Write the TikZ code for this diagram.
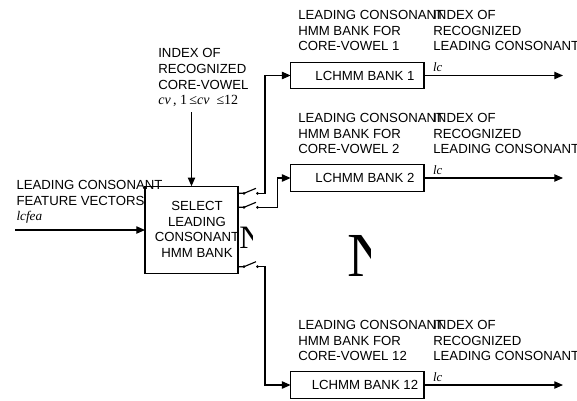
\documentclass[tikz,border=0pt]{standalone}
\usepackage{fontspec}
\setmainfont{Liberation Sans}
\newfontfamily\timesfont{Liberation Serif}
\usetikzlibrary{arrows.meta}
\begin{document}
\begin{tikzpicture}[x=0.75pt,y=-0.75pt,
  line width=0.85pt,
  every node/.style={inner sep=0pt, outer sep=0pt},
  lbl/.style={anchor=north west, align=left, font=\fontsize{9.9}{11.7}\selectfont},
  ctr/.style={align=center, font=\fontsize{9.9}{11.7}\selectfont},
  var/.style={anchor=base west, font=\timesfont\itshape\fontsize{9.6}{11}\selectfont},
  blk/.style={draw, minimum width=69.75pt, minimum height=65.25pt},
  bank/.style={draw, minimum width=100pt, minimum height=20pt},
  arr/.style={-{Triangle[length=6.5pt,width=5.5pt]}},
  dot/.style={circle, fill, minimum size=2.2pt},
  bigN/.style={anchor=base west, font=\timesfont}
]
\useasboundingbox (0,0) rectangle (577,400);

% selector block
\node[blk] (sel) at (191.5,229.7) {};
\node[ctr] (seltxt) at (197,229.3) {SELECT\\LEADING\\CONSONANT\\HMM BANK};

% input side
\node[lbl] (featlbl) at (16.5,180.2) {LEADING CONSONANT\\FEATURE VECTORS\\{\timesfont\itshape lcfea}};
\coordinate (fin) at (15,230);
\draw[arr] (fin) -- (fin -| sel.west);

\node[lbl] (cvlbl) at (158.3,48.6) {INDEX OF\\RECOGNIZED\\CORE-VOWEL\\{\timesfont\fontsize{10.5}{11.7}\selectfont\itshape cv\/\upshape\,, 1\,≤\itshape cv\upshape\ \ ≤12}};
\coordinate (cvin) at (191.5,112);
\draw[arr] (cvin) -- (sel.north);

% LCHMM banks
\node[bank] (b1) at (357.3,75.5) {};
\node[ctr] (b1t) at (365,75.5) {LCHMM BANK 1};
\node[bank] (b2) at (357.3,178) {};
\node[ctr] (b2t) at (365,178) {LCHMM BANK 2};
\node[bank] (b12) at (357.3,385) {};
\node[ctr] (b12t) at (365,385) {LCHMM BANK 12};

\node[lbl] (b1l) at (298.3,10.2) {LEADING CONSONANT\\HMM BANK FOR\\CORE-VOWEL 1};
\node[lbl] (b1r) at (433.3,10.2) {INDEX OF\\RECOGNIZED\\LEADING CONSONANT};
\node[lbl] (b2l) at (298.3,113.2) {LEADING CONSONANT\\HMM BANK FOR\\CORE-VOWEL 2};
\node[lbl] (b2r) at (433.3,113.2) {INDEX OF\\RECOGNIZED\\LEADING CONSONANT};
\node[lbl] (b12l) at (298.3,320.2) {LEADING CONSONANT\\HMM BANK FOR\\CORE-VOWEL 12};
\node[lbl] (b12r) at (433.3,320.2) {INDEX OF\\RECOGNIZED\\LEADING CONSONANT};

% outputs
\coordinate (out) at (563,0);
\draw[arr] (b1.east) -- (b1.east -| out);
\draw[arr] (b2.east) -- (b2.east -| out);
\draw[arr] (b12.east) -- (b12.east -| out);
\node[var] (lc1) at (433,71.5) {lc};
\node[var] (lc2) at (433,174) {lc};
\node[var] (lc12) at (433,381) {lc};

% switches
\coordinate (j1) at (265,0);
\coordinate (j2) at (277.5,0);
\coordinate (j12) at (265,0);

\node[dot] (s1a) at (244,193.3) {};
\node[dot] (s1b) at (257.5,193.3) {};
\coordinate (s1t) at (256,188.3);
\draw (sel.east |- s1a) -- (s1a.center) -- (s1t);
\draw[arr] (s1b.center) -- (s1b -| j1) |- (b1.west);

\node[dot] (s2a) at (244,207.3) {};
\node[dot] (s2b) at (257.5,207.3) {};
\coordinate (s2t) at (256,202.3);
\draw (sel.east |- s2a) -- (s2a.center) -- (s2t);
\draw[arr] (s2b.center) -- (s2b -| j2) |- (b2.west);

\node[dot] (s12a) at (244,266.7) {};
\node[dot] (s12b) at (257.5,266.7) {};
\coordinate (s12t) at (256,261.7);
\draw (sel.east |- s12a) -- (s12a.center) -- (s12t);
\draw[arr] (s12b.center) -- (s12b -| j12) |- (b12.west);

% continuation marks
\begin{scope}
  \clip (236,220) rectangle (252,255);
  \node[bigN, font=\timesfont\fontsize{24.5}{24.5}\selectfont] (n1) at (239.3,248.3) {N};
\end{scope}
\begin{scope}
  \clip (340,225) rectangle (370,285);
  \node[bigN, font=\timesfont\fontsize{47}{47}\selectfont] (n2) at (347.5,276) {N};
\end{scope}
\end{tikzpicture}
\end{document}
